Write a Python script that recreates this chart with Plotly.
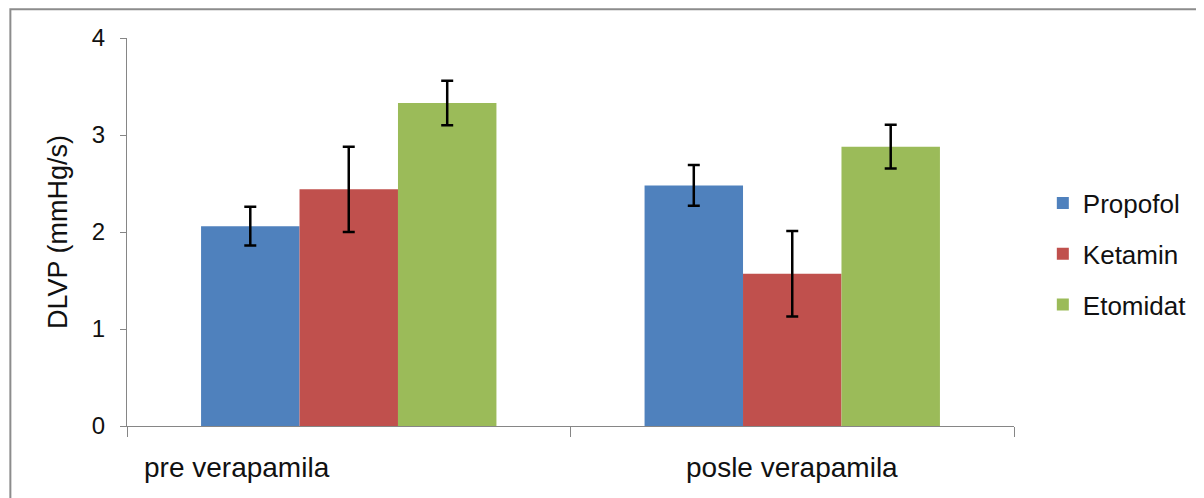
import plotly.graph_objects as go

categories = ["pre verapamila", "posle verapamila"]
series_names = ["Propofol", "Ketamin", "Etomidat"]
propofol = [2.06, 2.48]
propofol_err = [0.20, 0.21]
ketamin = [2.44, 1.57]
ketamin_err = [0.44, 0.44]
etomidat = [3.33, 2.88]
etomidat_err = [0.23, 0.225]
y_ticks = [0, 1, 2, 3, 4]
y_title = "DLVP (mmHg/s)"

colors = ["#4F81BD", "#C0504D", "#9BBB59"]
values = [propofol, ketamin, etomidat]
errors = [propofol_err, ketamin_err, etomidat_err]

FONT = "Liberation Sans, Arial, sans-serif"

fig = go.Figure()
for name, vals, errs, col in zip(series_names, values, errors, colors):
    fig.add_trace(go.Bar(
        name=name, x=categories, y=vals, marker_color=col,
        marker_line_width=0, legendgroup=name,
        error_y=dict(type="data", array=errs, visible=True,
                     color="black", thickness=2.5, width=6),
    ))

# page body has an 8px margin, so the figure origin is at (8, 8)
fig.update_layout(
    width=1196, height=490,
    margin=dict(l=119, r=185, t=30, b=72),
    paper_bgcolor="white", plot_bgcolor="white",
    barmode="group", bargap=0.334, bargroupgap=0,
    font=dict(family=FONT, color="#222222"),
    showlegend=True,
    legend=dict(x=1.0325, xanchor="left", y=0.443, yanchor="middle",
                font=dict(size=26, family=FONT, color="#111111"),
                tracegroupgap=14, itemwidth=30, bgcolor="rgba(0,0,0,0)"),
    xaxis=dict(type="category", showticklabels=False, showline=True,
               linecolor="#868686", linewidth=1, ticks="outside",
               tickson="boundaries", ticklen=10, tickcolor="#868686",
               showgrid=False, zeroline=False),
    yaxis=dict(range=[0, 4], tickvals=y_ticks, showline=True,
               linecolor="#868686", linewidth=1, ticks="outside",
               ticklen=6, tickcolor="#868686", showgrid=False,
               zeroline=False, ticklabelstandoff=10, automargin=False,
               tickfont=dict(size=24, family=FONT, color="#111111"),
               title=dict(text=y_title, standoff=16,
                          font=dict(size=27, family=FONT, color="#111111"))),
)

label_pos = [0.1235, 0.7495]
for cat, xp in zip(categories, label_pos):
    fig.add_annotation(text=cat, x=xp, y=-0.108, xref="paper", yref="paper",
                       showarrow=False, xanchor="center", yanchor="middle",
                       font=dict(size=28, family=FONT, color="#111111"))

fig.add_shape(type="rect", xref="paper", yref="paper",
              x0=-0.1315, x1=1.25, y0=-0.25, y1=1.074,
              line=dict(color="#8c8c8c", width=2), layer="below")

fig.write_html("out.html")
